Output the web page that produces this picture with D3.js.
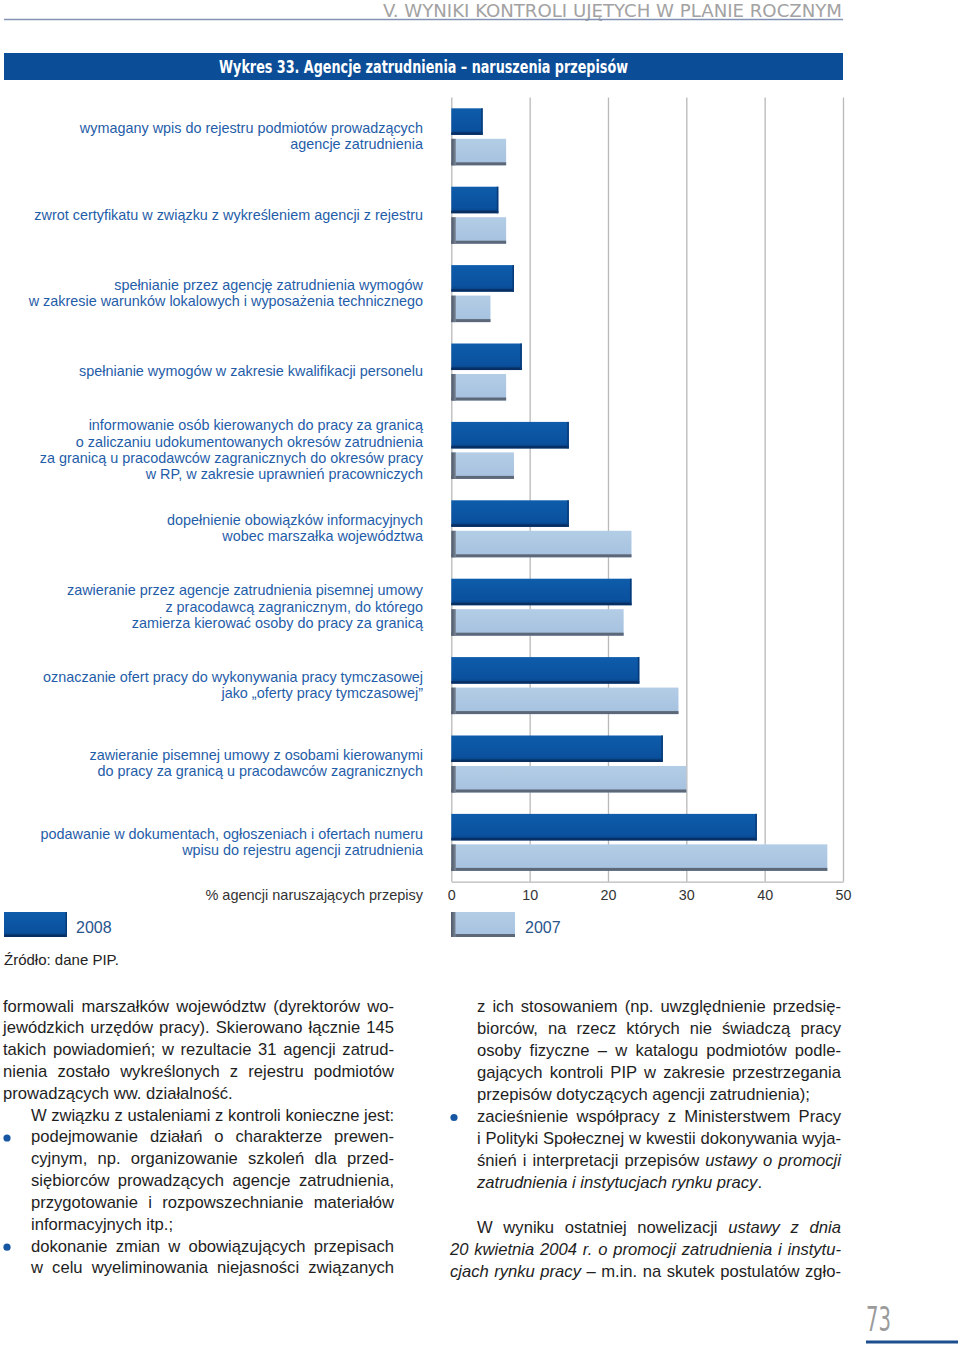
<!DOCTYPE html>
<html>
<head>
<meta charset="utf-8">
<script src="https://cdn.jsdelivr.net/npm/d3@7"></script>
<style>
body { margin: 0; background: #fff; }
#page { position: relative; width: 960px; height: 1347px; overflow: hidden; font-family: "Liberation Sans", Arial, sans-serif; }
#page svg { position: absolute; left: 0; top: 0; }
.ln { position: absolute; font-size: 16.6px; white-space: nowrap; color: #1e1e1e; text-align: justify; text-align-last: justify; }
.ln.last { text-align-last: left; }
</style>
</head>
<body>
<div id="page"></div>
<script>
// --- data ---
var categories = [
  ["wymagany wpis do rejestru podmiotów prowadzących", "agencje zatrudnienia"],
  ["zwrot certyfikatu w związku z wykreśleniem agencji z rejestru"],
  ["spełnianie przez agencję zatrudnienia wymogów", "w zakresie warunków lokalowych i wyposażenia technicznego"],
  ["spełnianie wymogów w zakresie kwalifikacji personelu"],
  ["informowanie osób kierowanych do pracy za granicą", "o zaliczaniu udokumentowanych okresów zatrudnienia", "za granicą u pracodawców zagranicznych do okresów pracy", "w RP, w zakresie uprawnień pracowniczych"],
  ["dopełnienie obowiązków informacyjnych", "wobec marszałka województwa"],
  ["zawieranie przez agencje zatrudnienia pisemnej umowy", "z pracodawcą zagranicznym, do którego", "zamierza kierować osoby do pracy za granicą"],
  ["oznaczanie ofert pracy do wykonywania pracy tymczasowej", "jako „oferty pracy tymczasowej”"],
  ["zawieranie pisemnej umowy z osobami kierowanymi", "do pracy za granicą u pracodawców zagranicznych"],
  ["podawanie w dokumentach, ogłoszeniach i ofertach numeru", "wpisu do rejestru agencji zatrudnienia"]
];
var values2008 = [4, 6, 8, 9, 15, 15, 23, 24, 27, 39];
var values2007 = [7, 7, 5, 7, 8, 23, 22, 29, 30, 48];
var seriesNames = ["2008", "2007"];
var xTicks = [0, 10, 20, 30, 40, 50];

var headerText = "V.  WYNIKI KONTROLI UJĘTYCH W PLANIE ROCZNYM";
var titleText = "Wykres 33. Agencje zatrudnienia – naruszenia przepisów";
var axisTitle = "% agencji naruszających przepisy";
var sourceText = "Źródło: dane PIP.";
var pageNumber = "73";

// body text: k = j (justified), l (last line), i = indented, b = bullet
var leftLines = [
  {t: "formowali marszałków województw (dyrektorów wo-", k: "j"},
  {t: "jewódzkich urzędów pracy). Skierowano łącznie 145", k: "j"},
  {t: "takich powiadomień; w rezultacie 31 agencji zatrud-", k: "j"},
  {t: "nienia zostało wykreślonych z rejestru podmiotów", k: "j"},
  {t: "prowadzących ww. działalność.", k: "l"},
  {t: "W związku z ustaleniami z kontroli konieczne jest:", k: "ij"},
  {t: "podejmowanie działań o charakterze prewen-", k: "ijb"},
  {t: "cyjnym, np. organizowanie szkoleń dla przed-", k: "ij"},
  {t: "siębiorców prowadzących agencje zatrudnienia,", k: "ij"},
  {t: "przygotowanie i rozpowszechnianie materiałów", k: "ij"},
  {t: "informacyjnych itp.;", k: "il"},
  {t: "dokonanie zmian w obowiązujących przepisach", k: "ijb"},
  {t: "w celu wyeliminowania niejasności związanych", k: "ij"}
];
var rightLines = [
  {t: "z ich stosowaniem (np. uwzględnienie przedsię-", k: "ij"},
  {t: "biorców, na rzecz których nie świadczą pracy", k: "ij"},
  {t: "osoby fizyczne – w katalogu podmiotów podle-", k: "ij"},
  {t: "gających kontroli PIP w zakresie przestrzegania", k: "ij"},
  {t: "przepisów dotyczących agencji zatrudnienia);", k: "il"},
  {t: "zacieśnienie współpracy z Ministerstwem Pracy", k: "ijb"},
  {t: "i Polityki Społecznej w kwestii dokonywania wyja-", k: "ij"},
  {t: "śnień i interpretacji przepisów <i>ustawy o promocji</i>", k: "ij"},
  {t: "<i>zatrudnienia i instytucjach rynku pracy</i>.", k: "il"},
  {t: "", k: "l"},
  {t: "W wyniku ostatniej nowelizacji <i>ustawy z dnia</i>", k: "ij"},
  {t: "<i>20 kwietnia 2004 r. o promocji zatrudnienia i instytu-</i>", k: "j"},
  {t: "<i>cjach rynku pracy</i> – m.in. na skutek postulatów zgło-", k: "j"}
];

var page = d3.select("#page");
var svg = page.append("svg").attr("width", 960).attr("height", 1347);

var defs = svg.append("defs");
var gd = defs.append("linearGradient").attr("id", "gDark").attr("x1", 0).attr("y1", 0).attr("x2", 0).attr("y2", 1);
gd.append("stop").attr("offset", "0%").attr("stop-color", "#0e5cab");
gd.append("stop").attr("offset", "80%").attr("stop-color", "#0a519e");
gd.append("stop").attr("offset", "100%").attr("stop-color", "#083d7d");
var gl = defs.append("linearGradient").attr("id", "gLight").attr("x1", 0).attr("y1", 0).attr("x2", 0).attr("y2", 1);
gl.append("stop").attr("offset", "0%").attr("stop-color", "#b4cde6");
gl.append("stop").attr("offset", "100%").attr("stop-color", "#a5c1df");
var ge = defs.append("linearGradient").attr("id", "gEdge").attr("x1", 0).attr("y1", 0).attr("x2", 1).attr("y2", 0);
ge.append("stop").attr("offset", "0%").attr("stop-color", "#4c5868");
ge.append("stop").attr("offset", "100%").attr("stop-color", "#7b8697");

// header
svg.append("text")
  .attr("x", 383).attr("y", 16.5)
  .attr("textLength", 459).attr("lengthAdjust", "spacingAndGlyphs")
  .style("font-family", "'Liberation Sans Narrow', 'DejaVu Sans Condensed', sans-serif")
  .style("font-size", "18.5px").style("fill", "#a2a2a2")
  .text(headerText);
svg.append("line").attr("x1", 4).attr("x2", 843).attr("y1", 19.5).attr("y2", 19.5)
  .style("stroke", "#8292b3").style("stroke-width", 1.5);

// title bar
svg.append("rect").attr("x", 4).attr("y", 53).attr("width", 839).attr("height", 27).style("fill", "#0b4d97");
svg.append("text")
  .attr("x", 219).attr("y", 73)
  .attr("textLength", 409).attr("lengthAdjust", "spacingAndGlyphs")
  .style("font-family", "'Liberation Sans Narrow', 'DejaVu Sans Condensed', sans-serif")
  .style("font-weight", "bold").style("font-size", "17px").style("fill", "#fff")
  .text(titleText);

// scales
var x = d3.scaleLinear().domain([0, 50]).range([451.3, 843]);
var plotTop = 97.5, plotBottom = 881.7;
var y = d3.scaleBand().domain(d3.range(categories.length)).range([plotTop, plotBottom])
  .paddingInner(0.273).paddingOuter(0.138);
var ys = d3.scaleBand().domain(seriesNames).range([0, y.bandwidth()]).paddingInner(0.13);

// grid + axis
var axis = svg.append("g").attr("transform", "translate(0," + plotBottom + ")")
  .call(d3.axisBottom(x).tickValues(xTicks).tickSize(-(plotBottom - plotTop)).tickSizeOuter(0).tickPadding(8));
axis.selectAll("line").style("stroke", "#b9b9b9").style("stroke-width", 1.3);
axis.select(".domain").style("stroke", "#b9b9b9").style("stroke-width", 1.3);
axis.selectAll("text").style("font-family", "'Liberation Sans', Arial, sans-serif")
  .style("font-size", "14.3px").style("fill", "#333");

svg.append("text").attr("x", 423).attr("y", 900).attr("text-anchor", "end")
  .style("font-size", "14.5px").style("fill", "#333").text(axisTitle);

// bars
function darkBar(g, x0, y0, w, h) {
  g.append("rect").attr("x", x0).attr("y", y0).attr("width", w).attr("height", h).style("fill", "url(#gDark)");
  g.append("rect").attr("x", x0).attr("y", y0 + h - 2.5).attr("width", w).attr("height", 2.5).style("fill", "#072f63");
  g.append("rect").attr("x", x0 + w - 1.5).attr("y", y0).attr("width", 1.5).attr("height", h).style("fill", "#083a77");
}
function lightBar(g, x0, y0, w, h) {
  g.append("rect").attr("x", x0).attr("y", y0).attr("width", w).attr("height", h).style("fill", "url(#gLight)");
  g.append("rect").attr("x", x0).attr("y", y0 + h - 3).attr("width", w).attr("height", 3).style("fill", "#5c6778");
  g.append("rect").attr("x", x0).attr("y", y0).attr("width", 4.5).attr("height", h).style("fill", "url(#gEdge)");
}

var bars = svg.append("g");
categories.forEach(function(c, i) {
  var g = bars.append("g").attr("transform", "translate(0," + y(i) + ")");
  darkBar(g, x(0), ys("2008"), x(values2008[i]) - x(0), ys.bandwidth());
  lightBar(g, x(0), ys("2007"), x(values2007[i]) - x(0), ys.bandwidth());
});

// category labels
var labels = svg.append("g");
categories.forEach(function(c, i) {
  var cy = y(i) + y.bandwidth() / 2;
  var t = labels.append("text").attr("text-anchor", "end")
    .style("font-size", "14.4px").style("fill", "#1f5da8");
  c.forEach(function(line, j) {
    t.append("tspan").attr("x", 423)
      .attr("y", cy - 0.7 + (j - (c.length - 1) / 2) * 16.3)
      .attr("dy", "0.35em").text(line);
  });
});

// legend
darkBar(svg.append("g"), 4, 912, 63, 25);
lightBar(svg.append("g"), 451, 912, 64, 25);
svg.append("text").attr("x", 76).attr("y", 933).style("font-size", "16px").style("fill", "#27548d").text(seriesNames[0]);
svg.append("text").attr("x", 525).attr("y", 933).style("font-size", "16px").style("fill", "#27548d").text(seriesNames[1]);
svg.append("text").attr("x", 4).attr("y", 965).style("font-size", "15px").style("fill", "#222").text(sourceText);

// body text columns
function column(lines, left, width, indent, top0, lh) {
  lines.forEach(function(d, i) {
    var ind = d.k.indexOf("i") >= 0;
    var div = page.append("div").attr("class", "ln" + (d.k.indexOf("l") >= 0 ? " last" : ""))
      .style("left", (left + (ind ? indent : 0)) + "px")
      .style("top", (top0 + i * lh) + "px")
      .style("width", (width - (ind ? indent : 0)) + "px")
      .style("line-height", lh + "px")
      .html(d.t);
    var node = div.node();
    if (node.scrollWidth > node.clientWidth + 0.5) {
      var n = d.t.replace(/<[^>]+>/g, "").length;
      div.style("letter-spacing", (-(node.scrollWidth - node.clientWidth + 2) / n) + "px");
    }
    if (d.k.indexOf("b") >= 0) {
      svg.append("circle").attr("cx", left + 4).attr("cy", top0 + i * lh + 11.5).attr("r", 3.6).style("fill", "#1656a2");
    }
  });
}
column(leftLines, 3, 391, 28, 995.5, 21.83);
column(rightLines, 450, 391, 27, 995.5, 22.1);

// page number
svg.append("text").attr("x", 866).attr("y", 1331)
  .attr("textLength", 25).attr("lengthAdjust", "spacingAndGlyphs")
  .style("font-family", "'Liberation Sans Narrow', 'DejaVu Sans Condensed', sans-serif")
  .style("font-size", "33px").style("fill", "#9b9b9b").text(pageNumber);
svg.append("line").attr("x1", 866).attr("x2", 958).attr("y1", 1342).attr("y2", 1342)
  .style("stroke", "#1d4f8e").style("stroke-width", 3);
</script>
</body>
</html>
